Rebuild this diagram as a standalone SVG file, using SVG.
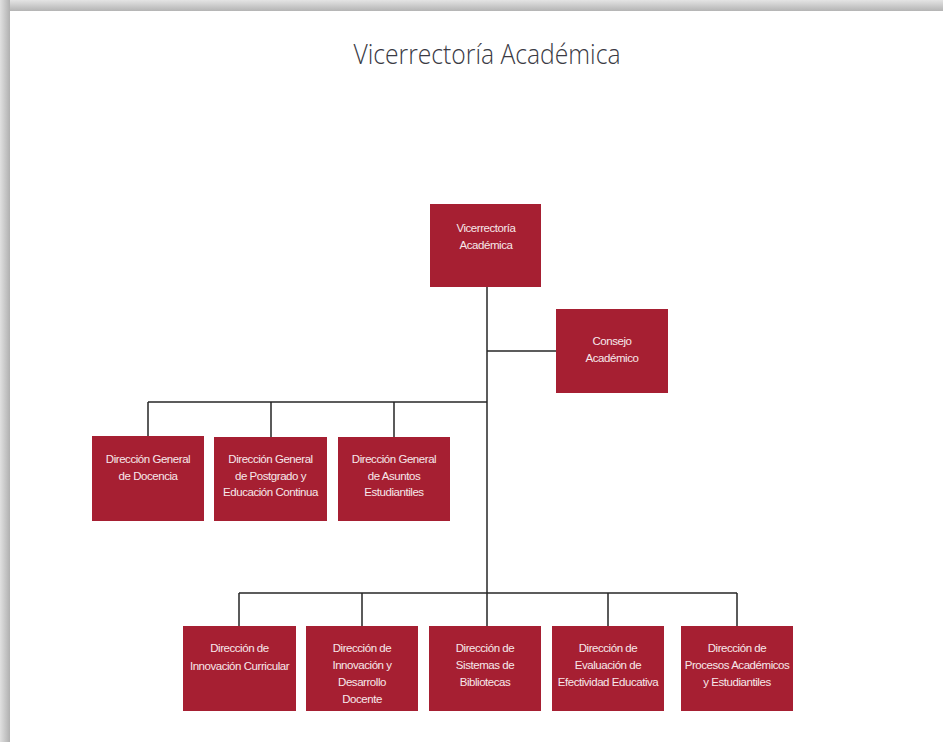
<svg xmlns="http://www.w3.org/2000/svg" width="943" height="742" viewBox="0 0 943 742">
<defs>
<linearGradient id="shTop" x1="0" y1="0" x2="0" y2="1">
<stop offset="0" stop-color="#e4e4e4"/>
<stop offset="1" stop-color="#b4b4b4"/>
</linearGradient>
<linearGradient id="shLeft" x1="0" y1="0" x2="1" y2="0">
<stop offset="0" stop-color="#e0e0e0"/>
<stop offset="1" stop-color="#b0b0b0"/>
</linearGradient>
<style>
.box{fill:#a61f32;}
.lbl{font-family:"Liberation Sans","Open Sans",Arial,sans-serif;font-size:11.5px;fill:#f6e8ea;text-anchor:middle;letter-spacing:-0.45px;}
.ln{stroke:#262626;stroke-width:1.5;fill:none;}
.title{font-family:"Open Sans","Liberation Sans",sans-serif;font-weight:300;font-size:27px;fill:#3a3a44;text-anchor:middle;}
</style>
</defs>
<rect x="0" y="0" width="943" height="742" fill="#ffffff"/>
<rect x="0" y="0" width="943" height="11" fill="url(#shTop)"/>
<rect x="0" y="0" width="10" height="742" fill="url(#shLeft)"/>
<rect x="10" y="11" width="933" height="731" fill="#ffffff"/>
<text class="title" x="487" y="64" textLength="267" lengthAdjust="spacingAndGlyphs">Vicerrectoría Académica</text>
<g id="connectors">
<path class="ln" d="M487 287 V593"/>
<path class="ln" d="M487 351 H556"/>
<path class="ln" d="M148 402 H487"/>
<path class="ln" d="M148 402 V436 M271 402 V437 M394 402 V437"/>
<path class="ln" d="M239 593 H737"/>
<path class="ln" d="M239 593 V626 M362 593 V626 M487 593 V626 M608 593 V626 M737 593 V626"/>
</g>
<g id="vicerrectoria">
<rect class="box" x="430" y="204" width="111" height="83"/>
<text class="lbl" x="486" y="232">Vicerrectoría</text>
<text class="lbl" x="486" y="249">Académica</text>
</g>
<g id="consejo">
<rect class="box" x="556" y="309" width="112" height="84"/>
<text class="lbl" x="612" y="345">Consejo</text>
<text class="lbl" x="612" y="362">Académico</text>
</g>
<g id="dg-docencia">
<rect class="box" x="92" y="436" width="112" height="85"/>
<text class="lbl" x="148" y="463">Dirección General</text>
<text class="lbl" x="148" y="480">de Docencia</text>
</g>
<g id="dg-postgrado">
<rect class="box" x="214" y="437" width="113" height="84"/>
<text class="lbl" x="270.5" y="463">Dirección General</text>
<text class="lbl" x="270.5" y="480">de Postgrado y</text>
<text class="lbl" x="270.5" y="496">Educación Continua</text>
</g>
<g id="dg-asuntos">
<rect class="box" x="338" y="437" width="112" height="84"/>
<text class="lbl" x="394" y="463">Dirección General</text>
<text class="lbl" x="394" y="480">de Asuntos</text>
<text class="lbl" x="394" y="496">Estudiantiles</text>
</g>
<g id="d-innovacion-curricular">
<rect class="box" x="183" y="626" width="113" height="85"/>
<text class="lbl" x="239.5" y="652">Dirección de</text>
<text class="lbl" x="239.5" y="670">Innovación Curricular</text>
</g>
<g id="d-innovacion-docente">
<rect class="box" x="306" y="626" width="112" height="85"/>
<text class="lbl" x="362" y="652">Dirección de</text>
<text class="lbl" x="362" y="669">Innovación y</text>
<text class="lbl" x="362" y="686">Desarrollo</text>
<text class="lbl" x="362" y="703">Docente</text>
</g>
<g id="d-bibliotecas">
<rect class="box" x="429" y="626" width="112" height="85"/>
<text class="lbl" x="485" y="652">Dirección de</text>
<text class="lbl" x="485" y="669">Sistemas de</text>
<text class="lbl" x="485" y="686">Bibliotecas</text>
</g>
<g id="d-evaluacion">
<rect class="box" x="552" y="626" width="112" height="85"/>
<text class="lbl" x="608" y="652">Dirección de</text>
<text class="lbl" x="608" y="669">Evaluación de</text>
<text class="lbl" x="608" y="686">Efectividad Educativa</text>
</g>
<g id="d-procesos">
<rect class="box" x="681" y="626" width="112" height="85"/>
<text class="lbl" x="737" y="652">Dirección de</text>
<text class="lbl" x="737" y="669">Procesos Académicos</text>
<text class="lbl" x="737" y="686">y Estudiantiles</text>
</g>
</svg>
